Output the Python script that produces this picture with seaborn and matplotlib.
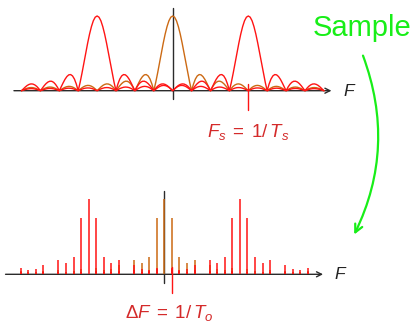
"""
Sampling a windowed spectrum: continuous |sinc| replicas (top) and the
sampled line spectrum (bottom).
"""
import matplotlib
matplotlib.use("Agg")
import matplotlib.pyplot as plt
from matplotlib.patches import FancyArrowPatch
import seaborn as sns
import pandas as pd
import numpy as np

# |sinc| magnitude profile read at offsets 0.0, 0.1, ... 12.0 from a lobe centre
offsets = np.round(np.arange(0, 121) * 0.1, 1)
profile = [
    1.0, 0.984, 0.936, 0.858, 0.757, 0.637, 0.505, 0.368, 0.234, 0.109,
    0.0, 0.089, 0.156, 0.198, 0.216, 0.212, 0.189, 0.152, 0.104, 0.052,
    0.0, 0.047, 0.085, 0.112, 0.126, 0.127, 0.116, 0.095, 0.067, 0.034,
    0.0, 0.032, 0.059, 0.078, 0.089, 0.091, 0.084, 0.070, 0.049, 0.025,
    0.0, 0.024, 0.045, 0.060, 0.069, 0.071, 0.066, 0.055, 0.039, 0.020,
    0.0, 0.019, 0.036, 0.049, 0.056, 0.058, 0.054, 0.045, 0.032, 0.017,
    0.0, 0.016, 0.030, 0.041, 0.047, 0.049, 0.046, 0.038, 0.028, 0.014,
    0.0, 0.014, 0.026, 0.035, 0.041, 0.042, 0.040, 0.033, 0.024, 0.013,
    0.0, 0.012, 0.023, 0.031, 0.036, 0.037, 0.035, 0.030, 0.021, 0.011,
    0.0, 0.011, 0.020, 0.028, 0.032, 0.034, 0.032, 0.027, 0.019, 0.010,
    0.0, 0.010, 0.018, 0.025, 0.029, 0.030, 0.029, 0.024, 0.017, 0.009,
    0.0, 0.009, 0.017, 0.023, 0.027, 0.028, 0.026, 0.022, 0.016, 0.008,
    0.0,
]

# replica centres (multiples of Fs) and their colours
centres = [0, -4, 4]
centre_colors = ["#cc6a14", "#ff1414", "#ff1414"]
fs_pos = 4            # Fs tick
df_step = 0.4         # Delta F
sample_n = list(range(-20, 21))
freq_grid = np.round(np.arange(-80, 81) * 0.1, 1)

AXIS = "#2b2b2b"
LABEL_RED = "#d42a2a"
GREEN = "#18ee18"


def lookup(f, c):
    idx = np.rint(np.abs(np.asarray(f) - c) * 10).astype(int)
    return np.asarray(profile)[idx]


W, H = 411, 323
fig = plt.figure(figsize=(W / 100, H / 100), dpi=100)
sns.set_style("white")
plt.rcParams["font.family"] = ["Liberation Sans", "DejaVu Sans"]
plt.rcParams["mathtext.fontset"] = "custom"
plt.rcParams["mathtext.rm"] = "Liberation Sans"
plt.rcParams["mathtext.it"] = "Liberation Sans:italic"


def make_axes(top_px, height_px, x0, y0, sx, sy):
    ax = fig.add_axes([0, 1 - (top_px + height_px) / H, 1, height_px / H])
    ax.set_xlim(-x0 / sx, (W - x0) / sx)
    ax.set_ylim(-(height_px - y0) / sy, y0 / sy)
    ax.axis("off")
    return ax


def draw_axes(ax, tick_x):
    ax.annotate("", xy=(8.4, 0), xytext=(-8.4, 0),
                arrowprops=dict(arrowstyle="->", color=AXIS, lw=1.0,
                                shrinkA=0, shrinkB=0, mutation_scale=9))
    ax.plot([0, 0], [-0.11, 1.11], color=AXIS, lw=1.0, zorder=1)
    ax.plot([tick_x, tick_x], [-0.255, 0.093], color="#ff1414", lw=1.0, zorder=5)
    ax.text(9.0, 0, "$F$", ha="left", va="center", fontsize=12.5, color="#222222")


# ---- top: continuous spectra ----
ax1 = make_axes(0, 150, 172.7, 90.7, 18.9, 74.7)
draw_axes(ax1, fs_pos)
for c, col in zip(centres, centre_colors):
    d = pd.DataFrame({"F": freq_grid, "mag": lookup(freq_grid, c)})
    sns.lineplot(data=d, x="F", y="mag", ax=ax1, color=col, lw=1.0,
                 estimator=None, sort=False, zorder=3)
ax1.text(fs_pos, -0.62, "$F_s\\;=\\;1/\\,T_s$", ha="center", va="baseline",
         fontsize=13.5, color=LABEL_RED)

# ---- bottom: sampled spectrum ----
ax2 = make_axes(170, 153, 164.3, 104.3, 18.9, 75.0)
draw_axes(ax2, df_step)
sample_f = np.round(np.array(sample_n) * df_step, 1)
for c, col in zip(centres, centre_colors):
    h = lookup(sample_f, c)
    keep = h > 0
    ax2.vlines(sample_f[keep], 0, h[keep], colors=col, lw=1.1, zorder=3)
ax2.text(0.25, -0.585, "$\\Delta F\\;=\\;1/\\,T_o$", ha="center", va="baseline",
         fontsize=13.5, color=LABEL_RED)

# ---- "Sample" annotation ----
fig.text(313 / W, 1 - 36.5 / H, "Sample", ha="left", va="baseline",
         fontsize=21, color=GREEN)
arrow = FancyArrowPatch((362 / W, 1 - 53 / H), (353 / W, 1 - 237 / H),
                        transform=fig.transFigure,
                        connectionstyle="arc3,rad=-0.22", arrowstyle="->",
                        mutation_scale=14, color=GREEN, lw=1.6)
fig.patches.append(arrow)

fig.savefig("out.png", dpi=100)
